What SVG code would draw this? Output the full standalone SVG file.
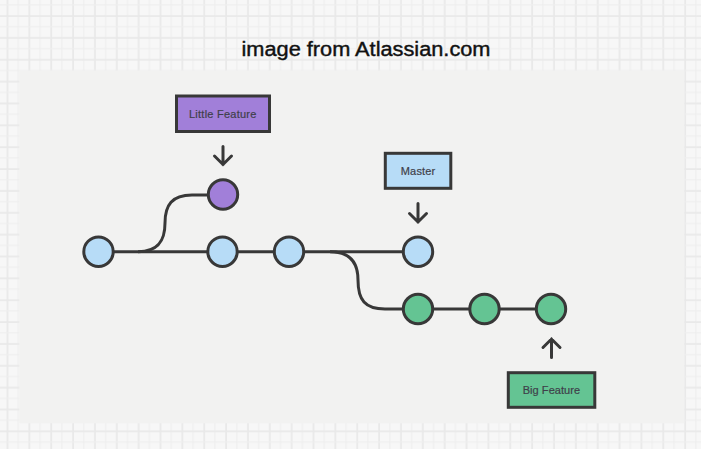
<svg xmlns="http://www.w3.org/2000/svg" width="701" height="449" viewBox="0 0 701 449">
  <defs>
    <pattern id="grid" patternUnits="userSpaceOnUse" x="2.45" y="11" width="21.86" height="21.86">
      <rect x="4.25" y="0" width="1.6" height="21.86" fill="#e8e8e8"/>
      <rect x="15.2" y="0" width="1.1" height="21.86" fill="#eeeeee"/>
      <rect x="0" y="4.25" width="21.86" height="1.6" fill="#e8e8e8"/>
      <rect x="0" y="15.2" width="21.86" height="1.1" fill="#eeeeee"/>
    </pattern>
    <style>
      .ln { fill: none; stroke: #383838; stroke-width: 3; }
      .arr { fill: none; stroke: #383838; stroke-width: 3; stroke-linecap: round; stroke-linejoin: miter; }
      .node { stroke: #383838; stroke-width: 3; }
      .blue { fill: #b7dcf7; }
      .purple { fill: #a17fd9; }
      .green { fill: #64c493; }
      .box { stroke: #383838; stroke-width: 3; }
      .lbl { font-family: "Liberation Sans", Arial, sans-serif; font-size: 11px; fill: #3f3f4a; text-anchor: middle; letter-spacing: 0.6px; stroke: #3f3f4a; stroke-width: 0.2; }
      .title { font-family: "Liberation Sans", Arial, sans-serif; font-size: 20px; fill: #111; text-anchor: middle; stroke: #111; stroke-width: 0.4; }
    </style>
  </defs>

  <rect x="0" y="0" width="701" height="449" fill="#f7f7f7"/>
  <rect x="0" y="0" width="701" height="449" fill="url(#grid)"/>
  <rect x="19.3" y="70.7" width="665" height="352.6" fill="#f2f2f1"/>

  <text class="title" x="366" y="56" textLength="249" lengthAdjust="spacingAndGlyphs">image from Atlassian.com</text>

  <g id="connectors">
    <path class="ln" d="M 113 251.7 L 289 251.7 L 418 251.7"/>
    <path class="ln" d="M 138 251.7 C 158 251.7, 165 241, 165 223 C 165 205, 172 195, 192 195 L 210 195"/>
    <path class="ln" d="M 330 251.7 C 350 251.7, 358 262, 358 280 C 358 300, 365 309, 385 309 L 551 309"/>
    <path class="arr" d="M 223 146.5 L 223 164.5 M 214.5 156 L 223 164.5 L 231.5 156"/>
    <path class="arr" d="M 418 203.5 L 418 222 M 409.5 213.5 L 418 222 L 426.5 213.5"/>
    <path class="arr" d="M 551.5 357.5 L 551.5 339 M 543 347.5 L 551.5 339 L 560 347.5"/>
  </g>

  <g id="commit1"><circle class="node blue" cx="98.5" cy="251.7" r="14.7"/></g>
  <g id="commit2"><circle class="node blue" cx="222.5" cy="251.7" r="14.7"/></g>
  <g id="commit3"><circle class="node blue" cx="289" cy="251.7" r="14.7"/></g>
  <g id="commit-master"><circle class="node blue" cx="418" cy="251.7" r="14.7"/></g>
  <g id="commit-little"><circle class="node purple" cx="223" cy="194.5" r="14.7"/></g>
  <g id="commit-big1"><circle class="node green" cx="418" cy="309" r="14.7"/></g>
  <g id="commit-big2"><circle class="node green" cx="484.5" cy="309" r="14.7"/></g>
  <g id="commit-big3"><circle class="node green" cx="551" cy="309" r="14.7"/></g>

  <g id="label-little">
    <rect class="box purple" x="176.5" y="96" width="93" height="35.5"/>
    <text class="lbl" x="223" y="118" textLength="68" lengthAdjust="spacing">Little Feature</text>
  </g>
  <g id="label-master">
    <rect class="box blue" x="385.3" y="153.3" width="65.5" height="35"/>
    <text class="lbl" x="418.3" y="175" textLength="35" lengthAdjust="spacing">Master</text>
  </g>
  <g id="label-big">
    <rect class="box green" x="508.3" y="372.7" width="86.5" height="34.6"/>
    <text class="lbl" x="551.7" y="394.3" textLength="58" lengthAdjust="spacing">Big Feature</text>
  </g>
</svg>
